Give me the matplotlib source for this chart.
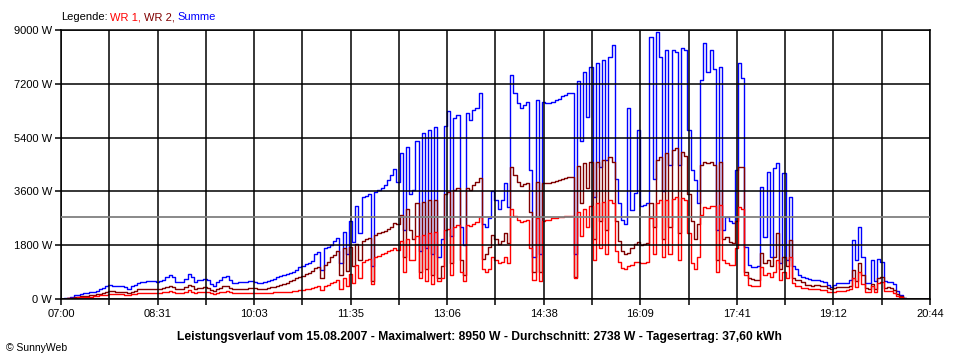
import numpy as np
import matplotlib
matplotlib.use("Agg")
import matplotlib.pyplot as plt

# ---------------- data ----------------
start_label = "07:00"
step_min = 3          # sampling interval of the series, minutes after 07:00
span_min = 824        # 07:00 .. 20:44

summe_w = [
    0, 20, 50, 70, 120, 150, 170, 200, 200, 220,
    230, 280, 320, 380, 430, 470, 450, 440, 430, 440,
    400, 340, 420, 480, 530, 560, 580, 600, 600, 590,
    570, 590, 650, 720, 800, 720, 570, 560, 560, 680,
    850, 720, 580, 620, 650, 670, 640, 500, 420, 560,
    640, 720, 760, 650, 540, 520, 560, 560, 570, 590,
    600, 580, 550, 520, 560, 600, 640, 680, 720, 760,
    800, 840, 880, 920, 980, 1060, 1120, 1160, 1200, 1260,
    1500, 1560, 970, 1700, 1740, 1800, 1950, 2050, 1200, 2250,
    1500, 2600, 1900, 3100, 2200, 3400, 3450, 3500, 1100, 3580,
    3650, 3720, 3800, 3980, 4150, 4350, 3900, 4900, 2300, 5080,
    3500, 3650, 5300, 1600, 5550, 1700, 5650, 1500, 5750, 1400,
    2000, 5800, 6300, 2100, 6060, 6160, 2400, 1800, 6220, 6000,
    6320, 6390, 6890, 2500, 2410, 2700, 3600, 3300, 3000, 3300,
    3880, 3080, 7500, 6900, 6560, 6390, 6500, 6590, 4300, 1400,
    6660, 1500, 6590, 6560, 6560, 6600, 6650, 6700, 6800, 6830,
    6890, 6890, 1500, 7300, 5300, 7600, 6100, 7760, 3400, 7900,
    4400, 8000, 4650, 8100, 8500, 4000, 3200, 2640, 2500, 6400,
    2980, 3550, 5650, 3100, 3150, 3210, 8770, 4000, 8930, 8100,
    3600, 8330, 4500, 8330, 8250, 4500, 8400, 8330, 5650, 4320,
    3980, 3210, 7330, 8570, 7600, 8330, 7700, 2310, 7760, 2310,
    2740, 2600, 2540, 4320, 7900, 7400, 1740, 1140, 1070, 1070,
    1100, 3750, 2070, 4250, 1400, 4380, 4550, 1200, 4220, 1300,
    3400, 1100, 1000, 800, 740, 700, 660, 640, 620, 640,
    600, 570, 480, 400, 460, 530, 530, 530, 540, 650,
    1970, 1300, 2410, 1400, 540, 540, 1300, 600, 1350, 1250,
    600, 570, 570, 500, 280, 150, 40, 0, 0, 0,
    0, 0, 0, 0, 0,
]

wr2_w = [
    0, 10, 30, 40, 60, 80, 100, 110, 110, 120,
    130, 160, 180, 210, 240, 260, 260, 250, 250, 250,
    230, 200, 240, 280, 320, 330, 340, 350, 350, 350,
    340, 350, 380, 410, 440, 410, 340, 330, 330, 400,
    480, 420, 350, 370, 380, 390, 370, 310, 270, 330,
    370, 420, 440, 380, 330, 320, 340, 340, 350, 360,
    370, 360, 340, 330, 350, 370, 390, 410, 440, 460,
    500, 550, 600, 640, 690, 740, 780, 820, 870, 940,
    1040, 1080, 700, 1150, 1250, 1400, 1480, 1600, 800, 1700,
    950, 1740, 1100, 1850, 1300, 1950, 2000, 2050, 600, 2150,
    2200, 2240, 2280, 2350, 2400, 2550, 2500, 2800, 1400, 3000,
    2300, 2000, 3200, 900, 3250, 1000, 3300, 800, 3300, 700,
    1100, 3500, 3580, 1200, 3650, 3700, 1300, 800, 3700, 3650,
    3800, 3900, 4050, 1350, 1500, 1750, 2140, 2000, 1850, 1950,
    2200, 1870, 4420, 4150, 3910, 3780, 3850, 3880, 2900, 900,
    3900, 900, 3880, 3870, 3880, 3930, 3960, 3980, 4010, 4040,
    4080, 4080, 750, 4450, 3200, 4550, 3700, 4600, 2000, 4600,
    2600, 4650, 2300, 4750, 4600, 2600, 1950, 1600, 1500, 1550,
    1700, 1850, 1900, 1820, 1850, 1870, 3200, 2400, 4650, 4750,
    2000, 4880, 2400, 4990, 5050, 2200, 4920, 4800, 3500, 2600,
    2000, 2500, 4500, 4600, 4550, 4580, 4500, 1300, 4580, 2000,
    2070, 1900, 1870, 2600, 4420, 4400, 900, 700, 660, 640,
    640, 1540, 1200, 1300, 1100, 1400, 2200, 1000, 1400, 1100,
    1970, 700, 640, 620, 560, 470, 460, 450, 460, 470,
    450, 420, 370, 350, 370, 400, 400, 400, 400, 420,
    970, 600, 1200, 800, 370, 350, 500, 350, 700, 740,
    380, 400, 380, 300, 180, 90, 25, 0, 0, 0,
    0, 0, 0, 0, 0,
]

wr1_w = [
    0, 10, 20, 30, 50, 60, 70, 80, 80, 80,
    90, 100, 120, 140, 150, 170, 170, 160, 160, 160,
    150, 130, 160, 180, 190, 200, 210, 210, 210, 210,
    200, 210, 220, 240, 260, 240, 200, 200, 200, 230,
    290, 250, 210, 220, 230, 240, 230, 190, 170, 200,
    230, 250, 260, 230, 200, 200, 200, 200, 200, 210,
    210, 210, 200, 200, 200, 210, 210, 220, 220, 230,
    230, 240, 250, 260, 280, 300, 310, 330, 350, 380,
    400, 420, 300, 450, 480, 520, 560, 620, 350, 700,
    450, 850, 550, 1150, 700, 1250, 1300, 1350, 500, 1400,
    1450, 1500, 1540, 1600, 1650, 1700, 1650, 1950, 900, 2000,
    1300, 1300, 2100, 700, 2150, 600, 2200, 500, 2240, 600,
    700, 2300, 2350, 800, 2400, 2460, 900, 600, 2480, 2450,
    2520, 2560, 2740, 1000, 900, 1000, 1400, 1300, 1200, 1250,
    1400, 1200, 3000, 2780, 2650, 2560, 2620, 2650, 1700, 640,
    2700, 600, 2610, 2650, 2650, 2700, 2720, 2740, 2760, 2770,
    2780, 2780, 700, 2900, 2100, 3000, 2400, 3100, 1300, 3200,
    1700, 3250, 1500, 3300, 3200, 1600, 1250, 1040, 1000, 1100,
    1150, 1250, 1250, 1200, 1200, 1250, 2700, 1500, 3210, 3300,
    1400, 3310, 1500, 3350, 3410, 1300, 3380, 3300, 2200, 1200,
    1000, 1400, 2800, 3080, 3050, 3100, 3100, 900, 3150, 1300,
    1200, 1150, 1140, 1700, 3080, 3000, 800, 470, 440, 420,
    420, 1070, 800, 870, 750, 900, 1300, 650, 900, 700,
    1400, 530, 450, 420, 380, 370, 350, 340, 340, 330,
    310, 290, 230, 220, 240, 270, 270, 280, 300, 320,
    700, 400, 900, 500, 230, 230, 420, 230, 550, 570,
    260, 280, 270, 200, 110, 60, 15, 0, 0, 0,
    0, 0, 0, 0, 0,
]

y_ticks = [0, 1800, 3600, 5400, 7200, 9000]
x_tick_labels = ["07:00", "08:31", "10:03", "11:35", "13:06",
                 "14:38", "16:09", "17:41", "19:12", "20:44"]

datum = "15.08.2007"
maximalwert_w = 8950
durchschnitt_w = 2738
tagesertrag_kwh = "37,60"

# ---------------- drawing ----------------
plt.rcParams["font.family"] = ["Liberation Sans", "DejaVu Sans"]

C_WR1 = "#FF0000"
C_WR2 = "#800000"
C_SUM = "#0000FF"

fig = plt.figure(figsize=(9.6, 3.6), dpi=100)
fig.patch.set_facecolor("white")
ax = fig.add_axes([61 / 960, 61 / 360, 869 / 960, 269 / 360])

minutes = np.arange(len(summe_w)) * step_min
ax.plot(minutes, summe_w, color=C_SUM, lw=1.0, drawstyle="steps-post", zorder=1.5)
ax.plot(minutes, wr2_w, color=C_WR2, lw=1.0, drawstyle="steps-post", zorder=1.6)
ax.plot(minutes, wr1_w, color=C_WR1, lw=1.0, drawstyle="steps-post", zorder=1.7)
ax.axhline(durchschnitt_w, color="#808080", lw=1.3, zorder=3)

ax.set_xlim(0, span_min)
ax.set_ylim(0, 9000)

n_div = 2 * (len(x_tick_labels) - 1)
xt = np.linspace(0, span_min, n_div + 1)
ax.set_xticks(xt)
labels = []
for k in range(n_div + 1):
    labels.append(x_tick_labels[k // 2] if k % 2 == 0 else "")
ax.set_xticklabels(labels)
ax.set_yticks(y_ticks)
ax.set_yticklabels([f"{v} W" for v in y_ticks])

ax.set_axisbelow(False)
ax.grid(True, color="black", lw=1.1)
for s in ax.spines.values():
    s.set_color("black")
    s.set_linewidth(1.1)
ax.tick_params(direction="out", length=4.5, width=1.1, color="black",
               labelsize=8, pad=2)
ax.tick_params(axis="x", pad=3)

# legend line at top
t0 = fig.text(61 / 960, 1 - 17 / 360, "Legende:", fontsize=8, color="black",
              va="center", ha="left")
t1 = ax.annotate("WR 1,", xy=(1, 0), xycoords=t0, xytext=(2, 0),
                 textcoords="offset points", fontsize=8, color=C_WR1,
                 va="bottom", ha="left", annotation_clip=False)
t2 = ax.annotate("WR 2,", xy=(1, 0), xycoords=t1, xytext=(2, 0),
                 textcoords="offset points", fontsize=8, color=C_WR2,
                 va="bottom", ha="left", annotation_clip=False)
t3 = ax.annotate("Summe", xy=(1, 0), xycoords=t2, xytext=(2, 0),
                 textcoords="offset points", fontsize=8, color=C_SUM,
                 va="bottom", ha="left", annotation_clip=False)

title = (f"Leistungsverlauf vom {datum} - Maximalwert: {maximalwert_w} W - "
         f"Durchschnitt: {durchschnitt_w} W - Tagesertrag: {tagesertrag_kwh} kWh")
fig.text(479.5 / 960, 1 - 337 / 360, title, fontsize=8.7, fontweight="bold",
         ha="center", va="center")
fig.text(6 / 960, 1 - 348 / 360, "\u00a9 SunnyWeb", fontsize=7.5,
         ha="left", va="center")

fig.savefig("out.png", dpi=100, facecolor="white")
